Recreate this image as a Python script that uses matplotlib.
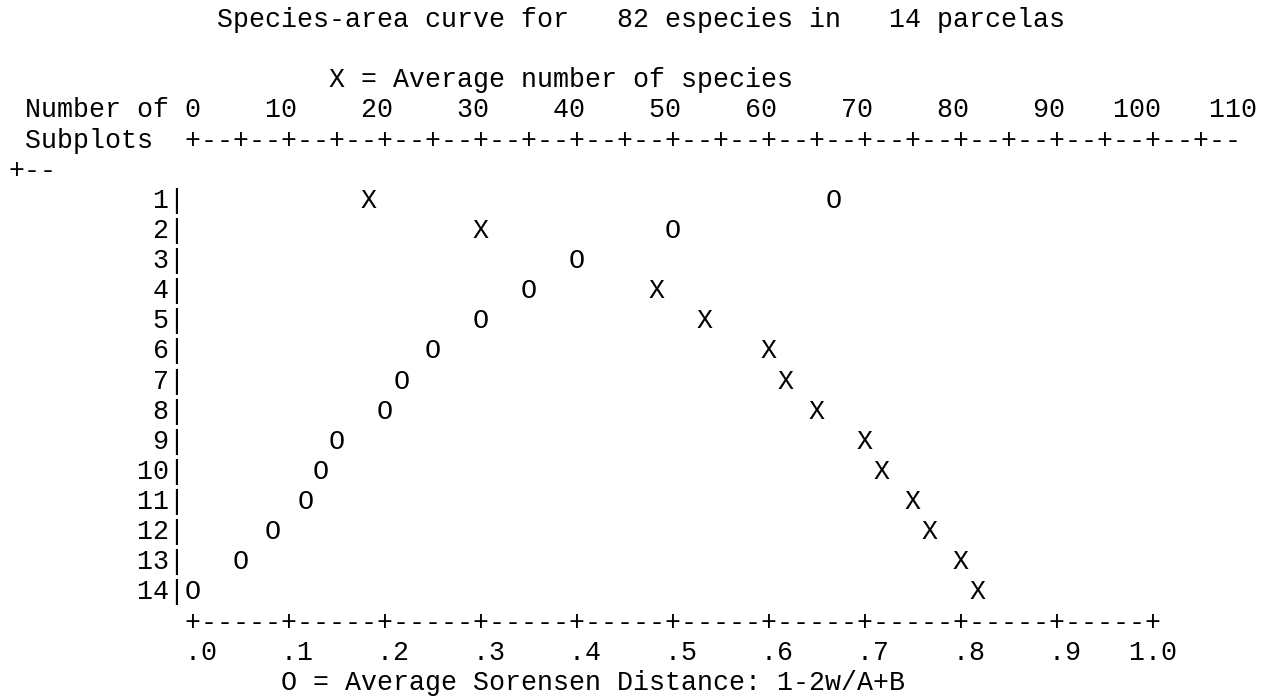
"""Species-area curve in the old line-printer style (PC-ORD text output).

Both series share the subplot rows: X = average number of species (top
scale, 0-110), O = average Sorensen distance (bottom scale, 0-1.0).
The frame, the +--+ rules and the labels are plain monospace text on the
same character grid the printer used (16 px per column, ~30 px per line).
"""

import matplotlib
matplotlib.use("Agg")
import matplotlib.pyplot as plt

N_SPECIES, N_PLOTS = 82, 14

subplots = list(range(1, 15))
species_mean = [18.3, 30.0, 40.0, 48.3, 53.3, 60.0, 61.7,
                65.0, 70.0, 71.7, 75.0, 76.7, 80.0, 81.7]
sorensen = [0.667, 0.500, 0.400, 0.350, 0.300, 0.250, 0.217,
            0.200, 0.150, 0.133, 0.117, 0.083, 0.050, 0.000]

top_ticks = list(range(0, 115, 10))
bottom_ticks = [0.0, 0.1, 0.2, 0.3, 0.4, 0.5, 0.6, 0.7, 0.8, 0.9, 1.0]

# character grid, in pixels of the 1270x697 page
W, H = 1270, 697
COL_W, COL0 = 16.0, 17.0          # column width, centre of column 0
LINE_H, LINE0 = 30.13, 17.0       # line pitch, centre of line 0
AXIS_COL = 11                     # column of the zero tick
ROW_LINE = 5                      # row r of the plot sits on line 5 + r

FONT = dict(family=["Liberation Mono", "DejaVu Sans Mono"], size=19.2,
            color="black")


def d_of_col(c):
    """distance-scale coordinate of the centre of column c"""
    return (c - AXIS_COL) / 60.0


def main():
    fig = plt.figure(figsize=(W / 100, H / 100), dpi=100)
    fig.patch.set_facecolor("white")
    ax = fig.add_axes([0, 0, 1, 1])
    # bottom scale: 0.1 of distance per 6 columns
    x0 = COL0 + COL_W * AXIS_COL
    ax.set_xlim(-x0 / (COL_W * 60), (W - x0) / (COL_W * 60))
    ax.set_ylim((H - LINE0) / LINE_H - ROW_LINE, -LINE0 / LINE_H - ROW_LINE)
    ax.axis("off")
    # top scale: 10 species per 6 columns; drawn underneath so that an O
    # printed in the same cell hides the X, as on the printer
    axs = ax.twiny()
    axs.set_xlim(-x0 / (COL_W * 0.6), (W - x0) / (COL_W * 0.6))
    axs.set_ylim(ax.get_ylim())
    axs.axis("off")
    axs.set_zorder(ax.get_zorder() - 1)

    def line(k, s):
        ax.text(d_of_col(-0.5), k - ROW_LINE, s, ha="left",
                va="center_baseline", **FONT)

    line(0, " " * 13 + f"Species-area curve for{N_SPECIES:5d} especies in"
         f"{N_PLOTS:5d} parcelas")
    line(2, " " * 20 + "X = Average number of species")
    line(3, " Number of " + "".join(f"{t:d}" if t == 0 else f"{t:6d}"
                                    for t in top_ticks))
    rule = "+--" * 23
    line(4, " Subplots  " + rule[:66])   # the printer wraps at column 77
    line(5, rule[66:])
    for r in subplots:
        line(ROW_LINE + r, f"{r:10d}|")
    line(ROW_LINE + 15, " " * AXIS_COL + "+-----" * 10 + "+")
    labels = [f"{t:.1f}".lstrip("0") if t < 1 else f"{t:.1f}"
              for t in bottom_ticks]
    s = " " * AXIS_COL
    for i, lab in enumerate(labels):
        col = AXIS_COL + 6 * i - (len(lab) - 2)
        s = s.ljust(col) + lab
    line(ROW_LINE + 16, s)
    line(ROW_LINE + 17, " " * 17 + "O = Average Sorensen Distance: 1-2w/A+B")

    for r, v in zip(subplots, species_mean):
        axs.text(v, r, "X", ha="center", va="center_baseline", **FONT)
    for r, d in zip(subplots, sorensen):
        ax.text(d, r, "O", ha="center", va="center_baseline",
                bbox=dict(fc="white", ec="none", pad=0.5), **FONT)

    fig.savefig("out.png", dpi=100, facecolor="white")
    plt.close(fig)


if __name__ == "__main__":
    main()
